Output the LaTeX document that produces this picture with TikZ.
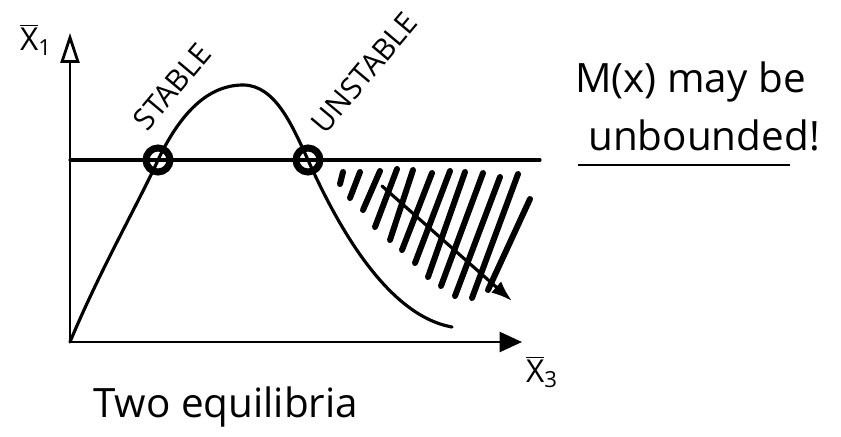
\documentclass[tikz,border=0pt]{standalone}
\usepackage{fontspec}
\setsansfont{Open Sans}
\usetikzlibrary{arrows.meta,positioning}

\begin{document}
\begin{tikzpicture}[x=0.02cm,y=-0.02cm]
  \tikzstyle{axis}=[line width=1.6pt,line cap=round]
  \tikzstyle{curve}=[line width=1.8pt,line cap=round]
  \tikzstyle{eqpt}=[circle,draw,line width=4pt,minimum size=0.48cm,inner sep=0pt]
  \tikzstyle{hatch}=[line width=3.4pt,line cap=round]
  \tikzstyle{hand}=[font=\sffamily\fontsize{23}{27}\selectfont,inner sep=0pt]
  \tikzstyle{tag}=[font=\sffamily\fontsize{17}{20}\selectfont,inner sep=0pt,rotate=50]

  \useasboundingbox (0,0) rectangle (841,436);

  % -- axes --
  \coordinate (O) at (70,342);
  \coordinate (ytip) at (70,33);
  \coordinate (xtip) at (522,342);
  \draw[axis,-{Triangle[open,length=0.6cm,width=0.38cm,line width=1.6pt]}] (O) -- (ytip);
  \draw[axis,-{Triangle[length=0.45cm,width=0.4cm]}] (O) -- (xtip);
  \node[font=\sffamily\fontsize{18}{21}\selectfont,inner sep=0pt] (xone) at (36,40) {$\overline{\mathsf{X}}_{\mathsf{1}}$};
  \node[font=\sffamily\fontsize{18}{21}\selectfont,inner sep=0pt] (xthree) at (542,372) {$\overline{\mathsf{X}}_{\mathsf{3}}$};

  % -- level line --
  \coordinate (lvlL) at (70,160);
  \coordinate (lvlR) at (540,160);
  \draw[curve] (lvlL) -- (lvlR);

  % -- equilibria --
  \node[eqpt] (stable) at (158,160) {};
  \node[eqpt] (unstable) at (308,160) {};
  \coordinate (peak) at (243,85);
  \coordinate (tail) at (452,327);
  \draw[curve] (O) .. controls (100,270) and (140,200) .. (stable.center)
    .. controls (178,118) and (205,85) .. (peak)
    .. controls (275,85) and (292,125) .. (unstable.center)
    .. controls (335,220) and (385,315) .. (tail);

  \node[tag,anchor=south west] (stab) at (148,133) {STABLE};
  \node[tag,anchor=south west] (unstab) at (326,136) {UNSTABLE};

  % -- hatched region --
  \foreach \xa/\ya/\xb/\yb in {340/184/343/172, 350/198/360/172, 363/210/380/171,
      375/227/397/169, 390/240/413/170, 402/250/432/173, 415/263/450/171,
      428/277/465/172, 441/286/483/173, 455/296/500/177, 472/298/518/174,
      488/290/530/199}
    \draw[hatch] (\xa,\ya) -- (\xb,\yb);

  % -- escaping trajectory --
  \coordinate (flowA) at (382,186);
  \coordinate (flowB) at (512,301);
  \draw[curve,-{Latex[length=0.42cm,width=0.3cm]}] (flowA) -- (flowB);

  % -- notes --
  \node[hand,anchor=base west] (note1) at (575,92) {M(x) may be};
  \node[hand,anchor=base west] (note2) at (588,150) {unbounded!};
  \coordinate (ulA) at (578,165);
  \coordinate (ulB) at (790,165);
  \draw[line width=1.4pt] (ulA) -- (ulB);
  \node[hand,anchor=base west] (title) at (93,417) {Two equilibria};
\end{tikzpicture}
\end{document}
